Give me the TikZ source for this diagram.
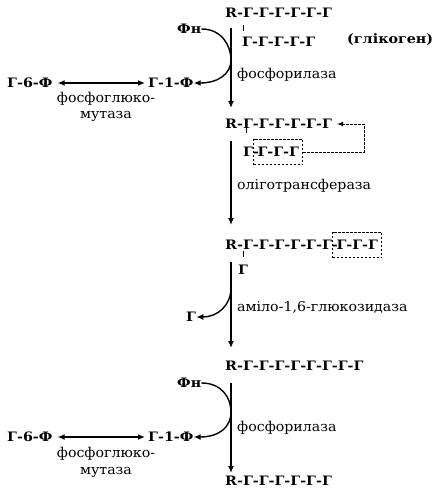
\documentclass[tikz,border=0pt]{standalone}
\usepackage{fontspec}
\setmainfont{DejaVu Serif}
\newfontfamily\chainfont[FakeStretch=1.1]{DejaVu Serif Bold}
\newfontfamily\enzfont[FakeStretch=1.05]{DejaVu Serif}
\usetikzlibrary{arrows.meta}
\begin{document}
\begin{tikzpicture}[x=1pt,y=-1pt,
  chain/.style={inner sep=0pt,anchor=west,font=\chainfont\fontsize{13}{15}\selectfont},
  enz/.style={inner sep=0pt,anchor=west,font=\enzfont\fontsize{13.5}{15}\selectfont},
  line/.style={line width=1.4pt},
  tip/.style={-{Latex[length=7pt,width=6pt]}},
  dtip/.style={{Latex[length=7pt,width=6pt]}-{Latex[length=7pt,width=6pt]}},
  dbox/.style={draw,dashed,line width=1pt,dash pattern=on 2.5pt off 1.5pt,inner xsep=4pt,inner ysep=8pt,anchor=west,font=\chainfont\fontsize{13}{15}\selectfont},
  tick/.style={line width=0.9pt}]
\useasboundingbox (0,0) rectangle (447,492);
\fill[white] (0,0) rectangle (447,492);
% block 1
\node[chain] (c1) at (225,13) {R-Г-Г-Г-Г-Г-Г};
\node[chain] (c1b) at (242,42) {Г-Г-Г-Г-Г};
\node[chain] (glyk) at (347,40) {(глікоген)};
\node[chain] (fn1) at (177,29) {Фн};
\node[chain] (g1f1) at (148,83) {Г-1-Ф};
\node[chain] (g6f1) at (7,83) {Г-6-Ф};
\node[enz] (e1) at (237,75) {фосфорилаза};
\node[enz,anchor=center] (m1a) at (106,99) {фосфоглюко-};
\node[enz,anchor=center] (m1b) at (106,116) {мутаза};
\coordinate (t1a) at (243,25); \coordinate (t1b) at (243,31);
\draw[tick] (t1a) -- (t1b);
\coordinate (v1a) at (231,28); \coordinate (v1b) at (231,108);
\draw[line,tip] (v1a) -- (v1b);
\draw[line,tip] (fn1.east) .. controls (222,29) and (231,46) .. (231,60) .. controls (231,74) and (218,83) .. (g1f1.east);
\draw[line,dtip] ([xshift=5pt]g6f1.east) -- ([xshift=-3pt]g1f1.west);
% block 2
\node[chain] (c2) at (225,124) {R-Г-Г-Г-Г-Г-Г};
\node[chain] (c2b) at (243,152) {Г-};
\node[dbox] (b2) at (253,152) {Г-Г-Г};
\coordinate (t2a) at (246,127); \coordinate (t2b) at (246,133);
\draw[tick] (t2a) -- (t2b);
\coordinate (d2) at (364,124);
\draw[line width=1pt,dash pattern=on 2.5pt off 1.5pt,-{Latex[length=6pt,width=5pt]}] (b2.east) -| (d2) -- ([xshift=5pt]c2.east);
\coordinate (v2a) at (231,141); \coordinate (v2b) at (231,225);
\draw[line,tip] (v2a) -- (v2b);
\node[enz] (e2) at (237,186) {оліготрансфераза};
% block 3
\node[chain] (c3) at (225,245) {R-Г-Г-Г-Г-Г-Г-};
\node[dbox] (b3) at (332,245) {Г-Г-Г};
\coordinate (t3a) at (243,251); \coordinate (t3b) at (243,257);
\draw[tick] (t3a) -- (t3b);
\node[chain] (c3b) at (238,270) {Г};
\coordinate (v3a) at (231,262); \coordinate (v3b) at (231,348);
\draw[line,tip] (v3a) -- (v3b);
\coordinate (v3m) at (231,288);
\node[chain] (g3) at (186,317) {Г};
\draw[line,tip] (v3m) .. controls (231,305) and (218,317) .. (g3.east);
\node[enz] (e3) at (237,307) {аміло-1,6-глюкозидаза};
% block 4
\node[chain] (c4) at (225,366) {R-Г-Г-Г-Г-Г-Г-Г-Г};
\node[chain] (fn4) at (177,383) {Фн};
\node[chain] (g1f4) at (148,437) {Г-1-Ф};
\node[chain] (g6f4) at (7,437) {Г-6-Ф};
\node[enz] (e4) at (237,428) {фосфорилаза};
\node[enz,anchor=center] (m4a) at (106,454) {фосфоглюко-};
\node[enz,anchor=center] (m4b) at (106,472) {мутаза};
\coordinate (v4a) at (231,383); \coordinate (v4b) at (231,473);
\draw[line,tip] (v4a) -- (v4b);
\draw[line,tip] (fn4.east) .. controls (222,383) and (231,398) .. (231,412) .. controls (231,428) and (218,437) .. (g1f4.east);
\draw[line,dtip] ([xshift=5pt]g6f4.east) -- ([xshift=-3pt]g1f4.west);
\node[chain] (c5) at (225,481) {R-Г-Г-Г-Г-Г-Г};
\end{tikzpicture}
\end{document}
